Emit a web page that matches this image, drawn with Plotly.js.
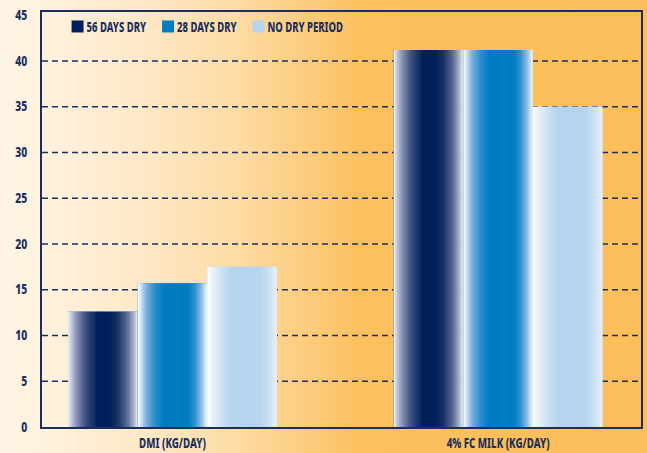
<!DOCTYPE html>
<html>
<head>
<meta charset="utf-8">
<script src="https://cdn.plot.ly/plotly-3.0.1.min.js"></script>
<style>
  html, body { margin: 0; padding: 0; }
  body {
    width: 647px; height: 453px; overflow: hidden;
    background: linear-gradient(90deg, #fff5e6 0%, #feeacb 20%, #fddba4 37%, #fdcb7b 48%, #fcc05e 56%, #fcbe5a 100%);
  }
  #chart { width: 647px; height: 453px; }
</style>
</head>
<body>
<div id="chart"></div>
<script>
// Categories and series values
const categories = ['DMI (KG/DAY)', '4% FC MILK (KG/DAY)'];
const seriesNames = ['56 DAYS DRY', '28 DAYS DRY', 'NO DRY PERIOD'];
const days56 = [12.6, 41.2];
const days28 = [15.7, 41.2];
const noDry = [17.5, 35.0];
const yTicks = [0, 5, 10, 15, 20, 25, 30, 35, 40, 45];
const gridValues = [5, 10, 15, 20, 25, 30, 35, 40];

const seriesValues = [days56, days28, noDry];

// Solid colours (legend swatches) and horizontal shading profiles across each bar
const solidColors = ['#00205b', '#007cc2', '#b7d4ee'];
const shading = [
  [[0, '#ffffff'], [0.03, '#d0d4e4'], [0.12, '#8a92b4'], [0.25, '#3c4f80'], [0.42, '#00205b'],
   [0.6, '#00205b'], [0.72, '#1a3468'], [0.85, '#5a6a94'], [0.95, '#b0b8d0'], [1, '#f0f2f8']],
  [[0, '#ffffff'], [0.04, '#d6e8f6'], [0.12, '#7fb2df'], [0.25, '#2a8ccc'], [0.38, '#007cc2'],
   [0.72, '#007cc2'], [0.82, '#2f90cf'], [0.92, '#8fc0e6'], [0.98, '#dceaf6'], [1, '#ffffff']],
  [[0, '#ffffff'], [0.05, '#eef4fb'], [0.2, '#cfe2f3'], [0.35, '#b7d4ee'], [0.75, '#b7d4ee'],
   [0.9, '#cfe1f2'], [1, '#e8f1fa']]
];

const navy = '#1b2f5f';
const fontFamily = '"Noto Sans", "DejaVu Sans", sans-serif';
const heavy = 800;

function hexToRgb(h) {
  return [1, 3, 5].map(i => parseInt(h.substr(i, 2), 16));
}
function colorAt(stops, t) {
  for (let i = 1; i < stops.length; i++) {
    if (t <= stops[i][0]) {
      const [p0, c0] = stops[i - 1];
      const [p1, c1] = stops[i];
      const f = (t - p0) / (p1 - p0 || 1);
      const a = hexToRgb(c0), b = hexToRgb(c1);
      const c = a.map((v, k) => Math.round(v + (b[k] - v) * f));
      return 'rgb(' + c.join(',') + ')';
    }
  }
  return stops[stops.length - 1][1];
}

const barWidth = 0.2138;   // width of one bar in category units
const slices = 40;         // shading strips per bar
const traces = [];

seriesValues.forEach((vals, s) => {
  const left = -1.5 * barWidth + s * barWidth;
  // base bar carrying the legend entry
  traces.push({
    type: 'bar', name: seriesNames[s], x: categories, y: vals,
    offset: left, width: barWidth,
    marker: { color: solidColors[s], line: { width: 0 } },
    hoverinfo: 'y+name'
  });
  // shading strips laid over the base bar
  const sw = barWidth / slices;
  for (let k = 0; k < slices; k++) {
    const t = (k + 0.5) / slices;
    traces.push({
      type: 'bar', x: categories, y: vals,
      offset: left + k * sw,
      width: k === slices - 1 ? sw : sw * 1.5,
      marker: { color: colorAt(shading[s], t), line: { width: 0 } },
      showlegend: false, hoverinfo: 'skip'
    });
  }
});

const layout = {
  width: 647, height: 453,
  margin: { l: 42, r: 6, t: 12, b: 26, pad: 0 },
  paper_bgcolor: 'rgba(0,0,0,0)',
  plot_bgcolor: 'rgba(0,0,0,0)',
  barmode: 'overlay',
  font: { family: fontFamily, color: navy, size: 13, weight: heavy },
  showlegend: true,
  legend: {
    orientation: 'h', x: 0.026, y: 1.004, xanchor: 'left', yanchor: 'top',
    bgcolor: 'rgba(0,0,0,0)', borderwidth: 0,
    font: { family: fontFamily, size: 14.8, color: navy, weight: heavy },
    entrywidth: 45.5, entrywidthmode: 'pixels', traceorder: 'normal'
  },
  xaxis: {
    type: 'category', range: [-0.4007, 1.4388],
    showgrid: false, zeroline: false, ticks: '',
    showline: true, mirror: true, linecolor: navy, linewidth: 2,
    layer: 'below traces', ticklabelstandoff: 3,
    tickfont: { family: fontFamily, size: 13.5, color: navy, weight: heavy }
  },
  yaxis: {
    range: [0, 45.35], tickmode: 'array', tickvals: yTicks, ticktext: yTicks.map(String),
    showgrid: false, zeroline: false, ticks: '',
    showline: true, mirror: true, linecolor: navy, linewidth: 2,
    layer: 'below traces', ticklabelstandoff: 10,
    tickfont: { family: fontFamily, size: 13.6, color: navy, weight: heavy }
  },
  shapes: gridValues.map(v => ({
    type: 'line', xref: 'paper', yref: 'y', x0: 0, x1: 1, y0: v, y1: v,
    layer: 'below', line: { color: navy, width: 1.5, dash: '6px,4px' }
  }))
};

// squeeze text horizontally about its anchor point for a condensed look
function condense(nodes, sx) {
  nodes.forEach(t => {
    const x = parseFloat(t.getAttribute('x')) || 0;
    const prev = t.getAttribute('transform') || '';
    t.setAttribute('transform', prev + ' translate(' + x + ',0) scale(' + sx + ',1) translate(' + (-x) + ',0)');
  });
}

Plotly.newPlot('chart', traces, layout, { displayModeBar: false, staticPlot: true }).then(gd => {
  // tighten the gap between legend swatches and their labels, and let the last label run past the box
  gd.querySelectorAll('.legendtext').forEach(t => t.setAttribute('x', 29));
  gd.querySelectorAll('.legend [clip-path]').forEach(el => el.removeAttribute('clip-path'));
  condense(gd.querySelectorAll('.legendtext'), 0.64);
  condense(gd.querySelectorAll('.ytick text'), 0.76);
  condense(gd.querySelectorAll('.xtick text'), 0.72);
});
</script>
</body>
</html>
